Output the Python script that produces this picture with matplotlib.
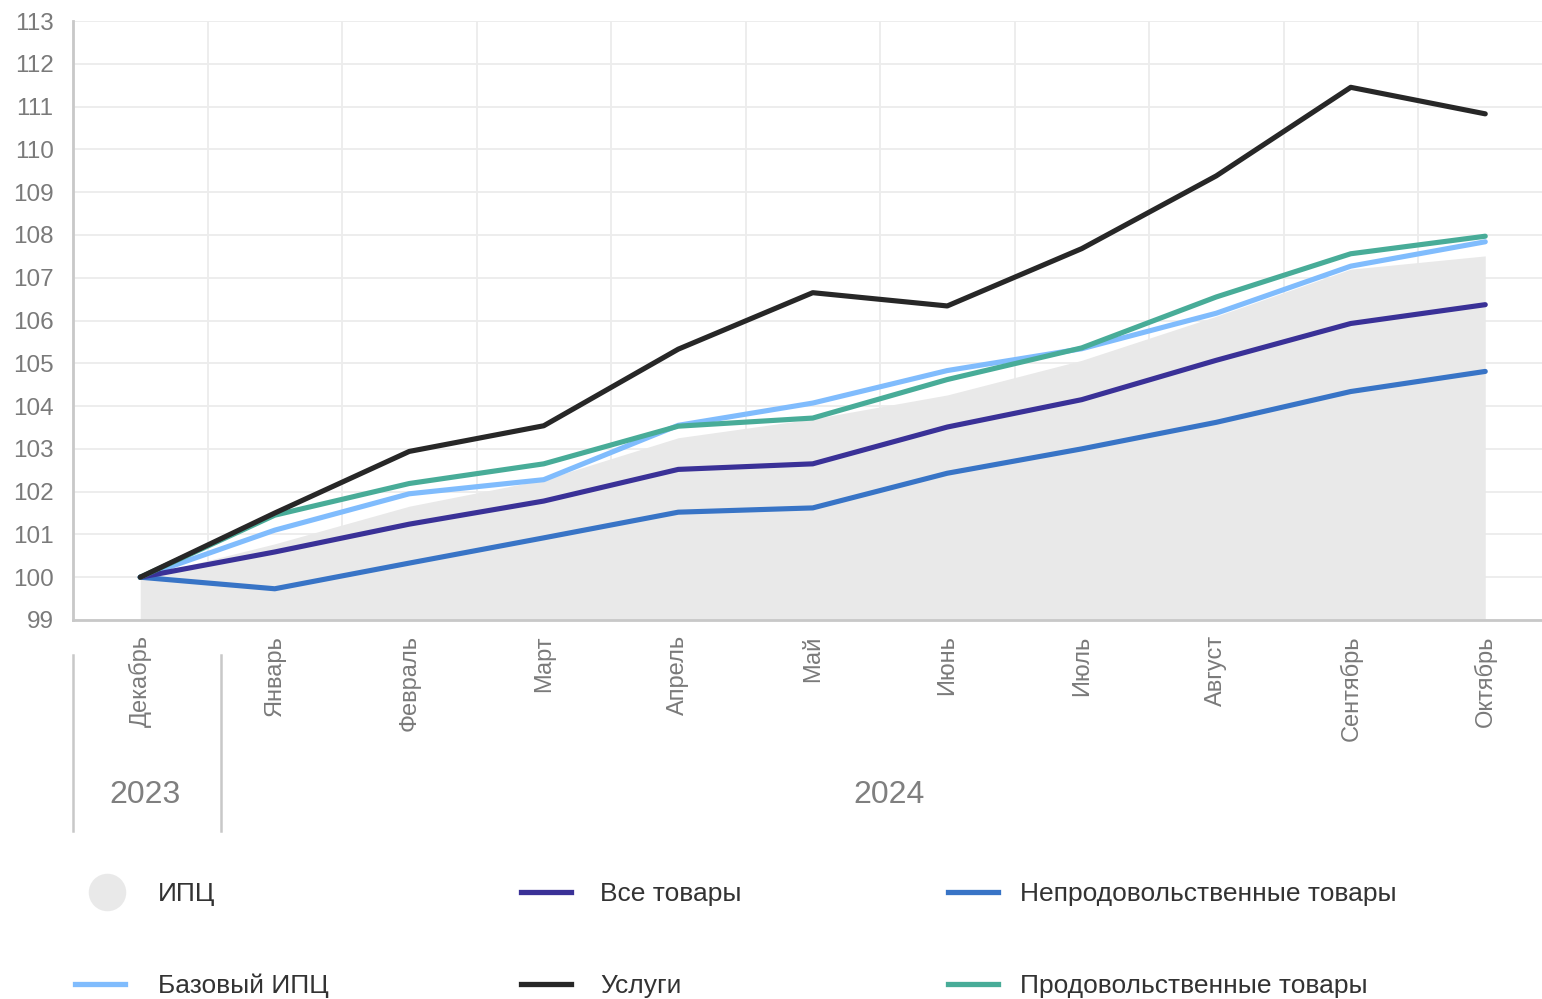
import matplotlib
matplotlib.use("Agg")
import matplotlib.pyplot as plt
from matplotlib.lines import Line2D

plt.rcParams['font.family'] = ['Liberation Sans', 'DejaVu Sans']

# ---------------- data ----------------
months = ["Декабрь", "Январь", "Февраль", "Март", "Апрель", "Май",
          "Июнь", "Июль", "Август", "Сентябрь", "Октябрь"]
cpi       = [100, 100.78, 101.66, 102.28, 103.26, 103.70, 104.26, 105.07, 106.10, 107.20, 107.51]
core_cpi  = [100, 101.10, 101.95, 102.28, 103.55, 104.07, 104.83, 105.34, 106.17, 107.27, 107.84]
all_goods = [100, 100.59, 101.24, 101.78, 102.52, 102.65, 103.51, 104.15, 105.07, 105.93, 106.37]
services  = [100, 101.50, 102.94, 103.54, 105.33, 106.65, 106.34, 107.68, 109.38, 111.45, 110.83]
nonfood   = [100, 99.73, 100.33, 100.92, 101.52, 101.62, 102.43, 103.00, 103.62, 104.34, 104.81]
food      = [100, 101.45, 102.19, 102.65, 103.53, 103.72, 104.62, 105.36, 106.55, 107.56, 107.97]
yticks = list(range(99, 114))
years = ["2023", "2024"]

C_CPI = "#e9e9e9"
C_CORE = "#80bcfd"
C_ALL = "#3a3197"
C_SERV = "#272727"
C_NONFOOD = "#3874c6"
C_FOOD = "#48ac98"

W, H = 1542, 999
fig = plt.figure(figsize=(W / 100, H / 100), dpi=100)

# plot area: x from 73px, band width 134.5px, y from 21px to 620px
ax = fig.add_axes([73 / W, (H - 620) / H, 11 * 134.5 / W, 599 / H])
x = list(range(len(months)))

ax.fill_between(x, 99, cpi, color=C_CPI, lw=0, zorder=1)
lw = 3.7
ax.plot(x, core_cpi, color=C_CORE, lw=lw, solid_capstyle='round', zorder=3)
ax.plot(x, nonfood, color=C_NONFOOD, lw=lw, solid_capstyle='round', zorder=3)
ax.plot(x, all_goods, color=C_ALL, lw=lw, solid_capstyle='round', zorder=4)
ax.plot(x, food, color=C_FOOD, lw=lw, solid_capstyle='round', zorder=4)
ax.plot(x, services, color=C_SERV, lw=lw, solid_capstyle='round', zorder=5)

ax.set_xlim(-0.5, len(months) - 0.5)
ax.set_ylim(99, 113)
ax.set_yticks(yticks)
ax.set_yticklabels([str(v) for v in yticks])
ax.set_xticks(x)
ax.set_xticklabels(months, rotation=90, va='top', ha='center')
ax.set_xticks([i - 0.5 for i in range(len(months) + 1)], minor=True)

ax.tick_params(axis='y', length=0, pad=14, labelsize=17.5, labelcolor='#7a7a7a')
ax.tick_params(axis='x', which='major', length=0, pad=11, labelsize=17, labelcolor='#7a7a7a')
ax.tick_params(axis='x', which='minor', length=0)
ax.grid(False)
ax.yaxis.grid(True, color='#ececec', lw=1.3, zorder=0)
ax.xaxis.grid(True, which='minor', color='#ececec', lw=1.3, zorder=0)
ax.set_axisbelow(True)
for s in ['top', 'right']:
    ax.spines[s].set_visible(False)
for s in ['left', 'bottom']:
    ax.spines[s].set_color('#c8c8c8')
    ax.spines[s].set_linewidth(2)


def fx(px):
    return px / W


def fy(py):
    return (H - py) / H


# year group labels and separators
for px in [73, 221]:
    fig.add_artist(Line2D([fx(px), fx(px)], [fy(655), fy(831)], color='#c8c8c8', lw=1.8))
fig.text(fx(145), fy(795), years[0], fontsize=23, color='#7f7f7f', ha='center', va='center')
fig.text(fx(889), fy(795), years[1], fontsize=23, color='#7f7f7f', ha='center', va='center')

# legend, laid out as in the reference
legend_items = [
    ("ИПЦ", C_CPI, 'circle', 75, 158, 893),
    ("Все товары", C_ALL, 'line', 521, 600, 893),
    ("Непродовольственные товары", C_NONFOOD, 'line', 948, 1020, 893),
    ("Базовый ИПЦ", C_CORE, 'line', 75, 158, 985),
    ("Услуги", C_SERV, 'line', 521, 600, 985),
    ("Продовольственные товары", C_FOOD, 'line', 948, 1020, 985),
]
for label, col, kind, hx, tx, ty in legend_items:
    if kind == 'circle':
        fig.add_artist(Line2D([fx(107)], [fy(ty - 1)], marker='o', markersize=27,
                              color=col, markeredgewidth=0, linestyle='none'))
    else:
        fig.add_artist(Line2D([fx(hx), fx(hx + 50)], [fy(ty - 1), fy(ty - 1)],
                              color=col, lw=3.8))
    fig.text(fx(tx), fy(ty + 1), label, fontsize=19, color='#333333',
             ha='left', va='center')

fig.savefig("out.png", dpi=100)
